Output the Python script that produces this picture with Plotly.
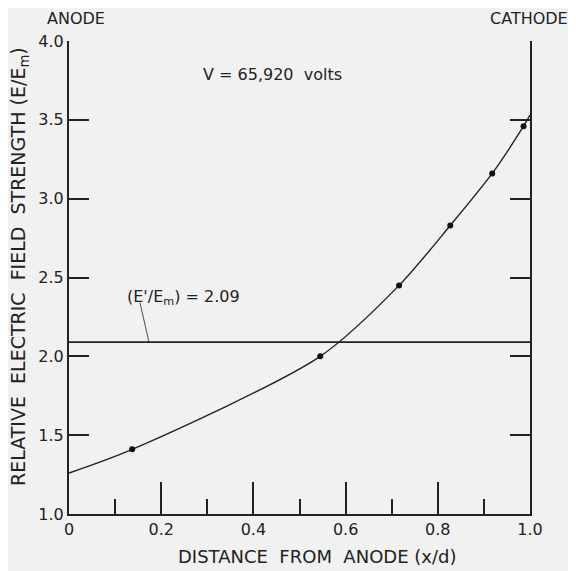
import plotly.graph_objects as go

# Measured points
x_pts = [0.137, 0.545, 0.716, 0.827, 0.918, 0.986]
y_pts = [1.41, 2.00, 2.45, 2.83, 3.16, 3.46]

# Smooth curve (ends at the axes)
x_curve = [0.0, 0.137, 0.545, 0.716, 0.827, 0.918, 0.986, 1.0]
y_curve = [1.26, 1.41, 2.00, 2.45, 2.83, 3.16, 3.46, 3.53]

# Critical ratio line
e_ratio = 2.09
x_ratio = [0.0, 1.0]

x_ticks = [0, 0.2, 0.4, 0.6, 0.8, 1.0]
x_ticklabels = ["0", "0.2", "0.4", "0.6", "0.8", "1.0"]
y_ticks = [1.0, 1.5, 2.0, 2.5, 3.0, 3.5, 4.0]
y_ticklabels = ["1.0", "1.5", "2.0", "2.5", "3.0", "3.5", "4.0"]

ink = "#222222"
bg = "#f1f1f1"
font = "DejaVu Sans, Liberation Sans, sans-serif"

# page offset (browser body margin)
OFF = 8
W, H = 576, 571
L, R, T, B = 69 - OFF, 46 + OFF, 41 - OFF, 57 + OFF
pw, ph = W - L - R, H - T - B


def px(x, y):
    """window pixel -> paper coords"""
    return (x - OFF - L) / pw, 1 - (y - OFF - T) / ph


fig = go.Figure()
fig.add_trace(go.Scatter(x=x_curve, y=y_curve, mode="lines",
                         line=dict(color=ink, width=1.4, shape="spline", smoothing=0.8),
                         hoverinfo="skip", showlegend=False))
fig.add_trace(go.Scatter(x=x_ratio, y=[e_ratio] * len(x_ratio), mode="lines",
                         line=dict(color=ink, width=1.6), showlegend=False))
fig.add_trace(go.Scatter(x=x_pts, y=y_pts, mode="markers",
                         marker=dict(color="#111111", size=6), showlegend=False))

# Pointer from label to the line
fig.add_shape(type="line", x0=0.154, y0=2.34, x1=0.1735, y1=e_ratio,
              line=dict(color=ink, width=0.8), layer="above")

labels = [
    ("ANODE", 76, 19, 0, 16),
    ("CATHODE", 529, 19, 0, 16),
    ("V = 65,920  volts", 272, 74, 0, 16),
    ("(E'/E<sub>m</sub>) = 2.09", 183, 297, 0, 16),
    ("DISTANCE  FROM  ANODE (x/d)", 317, 556, 0, 18),
    ("RELATIVE  ELECTRIC  FIELD  STRENGTH (E/E<sub>m</sub>)", 19, 267, -90, 19),
]
annotations = []
for text, x, y, ang, size in labels:
    ax, ay = px(x, y)
    annotations.append(dict(text=text, x=ax, y=ay, xref="paper", yref="paper",
                            xanchor="center", yanchor="middle", textangle=ang,
                            showarrow=False, font=dict(size=size)))

fig.update_layout(
    width=W, height=H,
    margin=dict(l=L, r=R, t=T, b=B, pad=0),
    paper_bgcolor=bg, plot_bgcolor=bg,
    font=dict(family=font, color=ink, size=16),
    xaxis=dict(range=[0, 1], tickvals=x_ticks, ticktext=x_ticklabels,
               ticks="inside", ticklen=32, tickwidth=1.6, tickcolor=ink,
               minor=dict(ticks="inside", ticklen=15, dtick=0.1, tickwidth=1.6, tickcolor=ink),
               showline=True, linecolor=ink, linewidth=2, showgrid=False, zeroline=False,
               tickfont=dict(size=16)),
    yaxis=dict(range=[1, 4], tickvals=y_ticks, ticktext=y_ticklabels,
               ticks="inside", ticklen=20, tickwidth=1.6, tickcolor=ink,
               showline=True, linecolor=ink, linewidth=2, mirror="ticks",
               showgrid=False, zeroline=False, tickfont=dict(size=16)),
    annotations=annotations,
)

fig.write_html("out.html")
